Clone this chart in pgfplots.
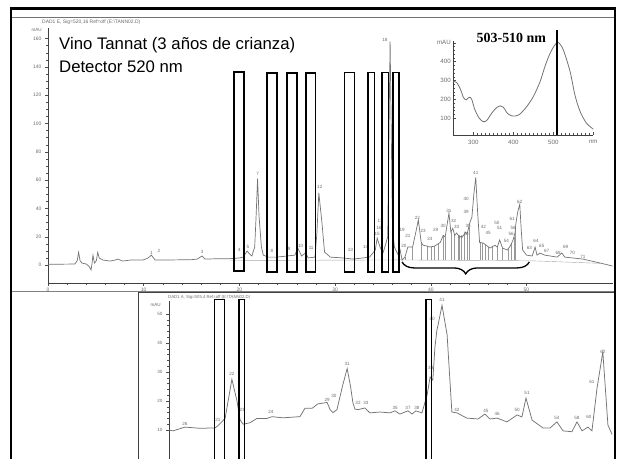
\documentclass[border=0pt]{standalone}
\usepackage{pgfplots}
\pgfplotsset{compat=1.18}
\usepackage{fontspec}
\setmainfont{Liberation Sans}
\newfontfamily\timesfont{Liberation Serif}
\usetikzlibrary{decorations.pathreplacing}
\definecolor{trace}{gray}{0.45}
\definecolor{lbl}{gray}{0.42}
\tikzset{pklbl/.style={font=\fontsize{4.6}{5}\selectfont, text=lbl, inner sep=0pt, anchor=center},
         box/.style={draw=black, line width=1.1bp}}
\newcommand\pk[3]{\node[pklbl] at (axis cs:#1,#2) {#3};}
\pgfplotsset{chrom/.style={scale only axis, clip=false,
  axis x line=bottom, axis y line=left, axis line style={-, black!75, line width=0.5bp},
  tick style={black!70, line width=0.4bp}, tick align=outside,
  major tick length=3bp, minor tick length=1.6bp,
  /pgf/number format/assume math mode=true,
  tick label style={text=lbl}}}
\begin{document}
\begin{tikzpicture}
\useasboundingbox (0,0) rectangle (621bp,459bp);
% thin screenshot lines
\draw[black!55, line width=0.6bp] (11bp,442bp) -- (615bp,442bp);
\node[anchor=base west, inner sep=0, text=lbl, font=\fontsize{5}{6}\selectfont] at (42bp,435bp) {DAD1 E, Sig=520,16 Ref=off (E:\textbackslash TANN02.D)};

% ---------------- main chromatogram ----------------
\begin{axis}[chrom, width=564.6bp, height=255bp, at={(48bp,176bp)}, anchor=south west,
  xmin=0, xmax=59, ymin=-12.7, ymax=167.5,
  xtick={0,10,20,30,40,50}, minor x tick num=4,
  ytick={0,20,...,160}, minor y tick num=3,
  tick label style={font=\fontsize{5}{6}\selectfont},
  xticklabel style={yshift=1bp}]
% integration baseline
\addplot[black!35, line width=0.4bp] coordinates {(19,3.2) (36.8,3.6) (50.5,3.0) (57.7,1.2)};
% drop lines
\addplot[black!40, line width=0.5bp, unbounded coords=jump] coordinates {
(37.3,3.5) (37.3,5.6) (37.3,nan)
(38.1,3.5) (38.1,12.7) (38.1,nan)
(39.0,3.5) (39.0,16) (39.0,nan)
(39.6,3.5) (39.6,13.4) (39.6,nan)
(40.1,3.5) (40.1,13) (40.1,nan)
(40.4,3.5) (40.4,13.4) (40.4,nan)
(40.8,3.5) (40.8,15) (40.8,nan)
(41.3,3.5) (41.3,21) (41.3,nan)
(41.5,3.5) (41.5,19.8) (41.5,nan)
(42.1,3.5) (42.1,23.3) (42.1,nan)
(42.5,3.5) (42.5,21) (42.5,nan)
(42.85,3.5) (42.85,21) (42.85,nan)
(43.0,3.5) (43.0,19.8) (43.0,nan)
(43.2,3.5) (43.2,20.2) (43.2,nan)
(43.5,3.5) (43.5,22) (43.5,nan)
(43.8,3.5) (43.8,21.9) (43.8,nan)
(44.0,3.5) (44.0,27) (44.0,nan)
(45.2,3.5) (45.2,15.8) (45.2,nan)
(45.4,3.5) (45.4,15.5) (45.4,nan)
(45.7,3.5) (45.7,14.4) (45.7,nan)
(46.0,3.5) (46.0,13) (46.0,nan)
(46.4,3.5) (46.4,13.2) (46.4,nan)
(46.95,3.5) (46.95,12.7) (46.95,nan)
(47.5,3.5) (47.5,12) (47.5,nan)
(48.1,3.5) (48.1,11.5) (48.1,nan)
(48.45,3.5) (48.45,15.5) (48.45,nan)
(48.7,3.5) (48.7,20) (48.7,nan)
(48.85,3.5) (48.85,26) (48.85,nan)
};
% trace
\addplot[trace, line width=0.7bp] coordinates {
(0,0.5) (2.8,0.7) (3.05,3) (3.2,9) (3.35,3) (3.55,1.4) (4.0,0.7) (4.3,-1) (4.5,-3.5) (4.6,1)
(4.7,7) (4.85,1.4) (5.05,3) (5.2,9) (5.35,5) (5.75,3.5) (6.5,2.8) (7.0,3.5) (7.3,4.2) (7.8,2.8)
(8.6,3.5) (9.9,3.5) (10.45,4.9) (10.8,7) (11.2,3.5) (11.7,3.5) (13,3.6) (15.0,3.8) (15.6,4.2)
(16.1,6.4) (16.4,4.2) (18,4.5) (19.0,4.5) (20.0,5) (20.4,5.6) (20.8,9.9) (21.1,7.5) (21.3,6.4)
(21.6,12.7) (21.75,35) (21.9,61) (22.05,35) (22.3,12.7) (22.5,7) (23.0,5.6) (23.9,5.6) (25.0,6.4)
(25.8,7) (26.1,12) (26.5,6.4) (26.9,8.5) (27.2,5) (27.9,5.6) (28.1,22.6) (28.3,51) (28.6,31.8)
(28.9,9.2) (29.5,5.6) (30.8,5) (31.9,4.2) (32.9,5) (33.6,5.6) (34.2,10.6) (34.4,19) (34.7,12.7)
(35.0,8.5) (35.2,12.7) (35.5,20) (35.68,120) (35.75,158) (35.82,120) (36.0,25) (36.2,12.7) (36.6,7)
(36.8,10.6) (37.0,3.5) (37.3,5.6) (37.6,12.7) (38.1,12.7) (38.4,22) (38.7,31.8) (39.0,16) (39.2,14)
(39.6,13.4) (39.9,12.7) (40.4,13.4) (41.0,16) (41.3,21) (41.5,19.8) (41.9,36.7) (42.1,23.3) (42.3,26)
(42.5,21) (42.7,22.6) (43.0,19.8) (43.4,20.5) (43.6,23.3) (43.8,21.9) (44.1,30.4) (44.3,33.9)
(44.5,50) (44.7,62) (44.9,36.7) (45.1,16) (45.5,15.5) (45.9,13.4) (46.2,12) (46.7,14) (46.95,12.7)
(47.2,17.7) (47.5,12) (48.0,10.6) (48.3,13.4) (48.6,17.7) (48.8,22.6) (48.9,29.7) (49.1,38)
(49.3,43) (49.45,25) (49.6,10.6) (50.0,7) (50.6,6.4) (50.9,12.7) (51.1,7) (51.4,8.5) (51.9,7)
(53.2,5.6) (53.7,8.5) (54.0,5.6) (55.9,4.2) (57.7,1.4) (59,-0.7)};
% peak labels
\pk{10.8}{8.8}{1} \pk{11.6}{9.9}{2} \pk{16.1}{9.2}{3} \pk{20.0}{10.6}{4} \pk{20.9}{12.7}{5}
\pk{21.9}{64.3}{7} \pk{23.4}{9.9}{8} \pk{25.2}{11.3}{9} \pk{26.4}{13.4}{10} \pk{27.5}{12}{11}
\pk{28.4}{55}{12} \pk{31.6}{10.6}{13} \pk{33.2}{12.7}{14} \pk{34.4}{21.9}{15} \pk{34.6}{26}{16}
\pk{34.7}{31}{17} \pk{35.2}{159}{18} \pk{37.0}{24.7}{19} \pk{37.2}{13.4}{20} \pk{37.6}{20.5}{21}
\pk{38.6}{33.2}{22} \pk{39.2}{24}{23} \pk{39.9}{18.4}{24} \pk{40.5}{24.7}{29} \pk{41.3}{27.6}{30}
\pk{41.9}{38.2}{31} \pk{42.4}{31}{32} \pk{42.7}{26.9}{33} \pk{43.1}{19.8}{34} \pk{43.7}{21.9}{38}
\pk{43.9}{27.6}{35} \pk{43.7}{37.5}{39} \pk{43.7}{46.6}{40} \pk{44.7}{65}{41} \pk{45.5}{26.9}{42}
\pk{46.0}{22.6}{45} \pk{46.9}{29.7}{50} \pk{47.2}{26.1}{51} \pk{47.9}{17}{54} \pk{48.4}{21.9}{56}
\pk{48.6}{26.1}{58} \pk{48.5}{32.5}{61} \pk{49.3}{44.5}{62} \pk{50.3}{12}{63} \pk{51.0}{17}{64}
\pk{51.6}{13.4}{65} \pk{52.1}{9.9}{67} \pk{53.3}{8.5}{68} \pk{54.1}{12.7}{69} \pk{54.8}{8.5}{70}
\pk{55.9}{5.6}{71}
% mAU unit
\node[anchor=east, inner sep=0, text=lbl, font=\fontsize{4.6}{5}\selectfont] at (axis cs:0,166) [xshift=-6bp] {mAU};
% rectangles
\draw[box] (axis cs:19.44,-4.2) rectangle (axis cs:20.48,136.4);
\draw[box] (axis cs:22.88,-4.9) rectangle (axis cs:23.93,135.7);
\draw[box] (axis cs:24.97,-4.9) rectangle (axis cs:26.02,135.7);
\draw[box] (axis cs:26.96,-4.9) rectangle (axis cs:28.00,135.7);
\draw[box] (axis cs:30.97,-4.9) rectangle (axis cs:32.00,136.0);
\draw[box] (axis cs:33.44,-4.9) rectangle (axis cs:34.09,136.0);
\draw[box] (axis cs:34.90,-4.9) rectangle (axis cs:35.60,136.0);
\draw[box] (axis cs:36.05,-4.9) rectangle (axis cs:36.68,136.0);
% brace
\draw[decorate, decoration={brace, mirror, amplitude=12bp, aspect=0.5}, line width=1.3bp]
  (axis cs:37.0,2.2) -- (axis cs:50.3,2.2);
\end{axis}

% title text
\node[anchor=base west, inner sep=0, font=\fontsize{16.8}{18}\selectfont] at (59bp,409bp) {Vino Tannat (3 años de crianza)};
\node[anchor=base west, inner sep=0, font=\fontsize{16.8}{18}\selectfont] at (59bp,386.5bp) {Detector 520 nm};

% ---------------- inset spectrum ----------------
\begin{axis}[chrom, width=140bp, height=94bp, at={(453.3bp,324bp)}, anchor=south west,
  xmin=250, xmax=600, ymin=10, ymax=510,
  xtick={300,400,500,600}, xticklabels={300,400,500,nm}, minor x tick num=9,
  ytick={100,200,300,400,500}, yticklabels={100,200,300,400,mAU}, minor y tick num=4,
  tick align=inside, major tick length=2.5bp, minor tick length=1.5bp,
  tick label style={font=\fontsize{6.2}{7}\selectfont},
  xticklabel style={yshift=-1.5bp}, yticklabel style={xshift=1bp}]
\addplot[trace, line width=0.8bp, smooth] coordinates {
(250,294) (258.5,289) (268.5,250) (275,211) (282,197) (290,211) (296,200) (304,144) (315,99)
(325,81) (333.5,87) (346,126) (357,153) (367,165) (375,158) (385,126) (396,112) (407,112)
(417,122) (433.5,161) (450,214) (467,294) (479,374) (492,445) (504,489) (512.5,502) (525,463)
(542,347) (554,223) (567,135) (583,73) (600,41)};
\draw[black, line width=2.6bp] (axis cs:509,10) -- (axis cs:509,568);
\node[anchor=base west, inner sep=0, font=\timesfont\bfseries\fontsize{14}{16}\selectfont] at (axis cs:308,500) {503-510 nm};
\end{axis}

% ---------------- lower panel ----------------
\draw[black!50, line width=0.6bp] (11bp,168bp) -- (615bp,168bp);
\draw[black!75, line width=0.7bp] (138bp,-5bp) -- (138bp,166.5bp) -- (615bp,166.5bp);
\node[anchor=base west, inner sep=0, text=lbl, font=\fontsize{4.3}{5}\selectfont] at (168bp,160bp) {DAD1 A, Sig=505,4 Ref=off (E:\textbackslash TANN02.D)};
\begin{axis}[chrom, width=443bp, height=158.05bp, at={(169bp,0bp)}, anchor=south west,
  xmin=36.5, xmax=49.53, ymin=0, ymax=54.5,
  xtick={37,...,49}, xticklabels={}, minor x tick num=1,
  ytick={10,20,30,40,50}, minor y tick num=4,
  tick label style={font=\fontsize{4.6}{5}\selectfont}]
\addplot[trace, line width=0.75bp] coordinates {
(36.5,10) (36.62,9.7) (36.97,11) (37.4,10.6) (37.85,10.7) (37.94,11.5) (38.15,14) (38.35,27.5)
(38.5,20) (38.59,13.5) (38.68,12) (38.88,12.5) (39.09,14) (39.38,14) (39.53,14.6) (39.85,14.2)
(40.35,14.6) (40.5,17.5) (40.71,17.5) (40.88,19) (41.15,19.5) (41.24,17) (41.32,16) (41.44,17)
(41.6,25) (41.74,31.2) (41.84,25) (41.91,19.3) (41.97,17.2) (42.06,17) (42.26,17.6) (42.41,15.9)
(42.71,16.2) (43.0,15.9) (43.15,16.6) (43.29,15.5) (43.53,16.6) (43.65,15.5) (43.76,16.6)
(43.94,15.9) (44.09,22) (44.18,28.3) (44.26,27.2) (44.32,38.3) (44.38,44.5) (44.41,46) (44.53,53)
(44.68,42.8) (44.82,16.2) (44.97,15.9) (45.26,14.1) (45.59,13.8) (45.79,15.5) (45.94,13.8)
(46.15,14.1) (46.44,12.8) (46.74,15.2) (46.88,14.5) (47.0,21) (47.18,13.4) (47.5,10.7) (47.71,10.7)
(47.91,12.8) (48.09,9.7) (48.35,9.4) (48.5,12.8) (48.65,9.7) (48.82,11) (48.94,9.7) (49.09,24.5)
(49.26,36.9) (49.41,11.7) (49.53,8.5)};
\pk{36.97}{12}{26} \pk{37.94}{13.4}{21} \pk{38.35}{29.3}{22} \pk{38.65}{16.9}{23} \pk{39.5}{16.2}{24}
\pk{41.15}{20.3}{29} \pk{41.35}{21.6}{30} \pk{41.74}{32.8}{31} \pk{42.06}{19.3}{32} \pk{42.29}{19.3}{33}
\pk{43.15}{17.6}{35} \pk{43.53}{17.6}{37} \pk{43.79}{17.6}{38} \pk{44.2}{31.4}{39} \pk{44.24}{48.2}{40}
\pk{44.53}{54.8}{41} \pk{44.97}{16.9}{42} \pk{45.82}{16.6}{45} \pk{46.15}{15.5}{46} \pk{46.74}{16.9}{50}
\pk{47.03}{22.8}{51} \pk{47.91}{14.1}{54} \pk{48.5}{14.1}{58} \pk{48.85}{14.5}{60} \pk{48.94}{26.6}{61}
\pk{49.26}{36.9}{62}
\node[anchor=east, inner sep=0, text=lbl, font=\fontsize{4.6}{5}\selectfont] at (axis cs:36.5,53.1) [xshift=-8bp] {mAU};
\draw[box] (axis cs:37.83,-3) rectangle (axis cs:38.12,55);
\draw[box] (axis cs:38.56,-3) rectangle (axis cs:38.71,55);
\draw[box] (axis cs:44.06,-3) rectangle (axis cs:44.22,55);
\end{axis}

% outer thick frame
\draw[black, line width=2.7bp] (11bp,-5bp) -- (11bp,450.5bp) -- (615bp,450.5bp) -- (615bp,-5bp);
\end{tikzpicture}
\end{document}
